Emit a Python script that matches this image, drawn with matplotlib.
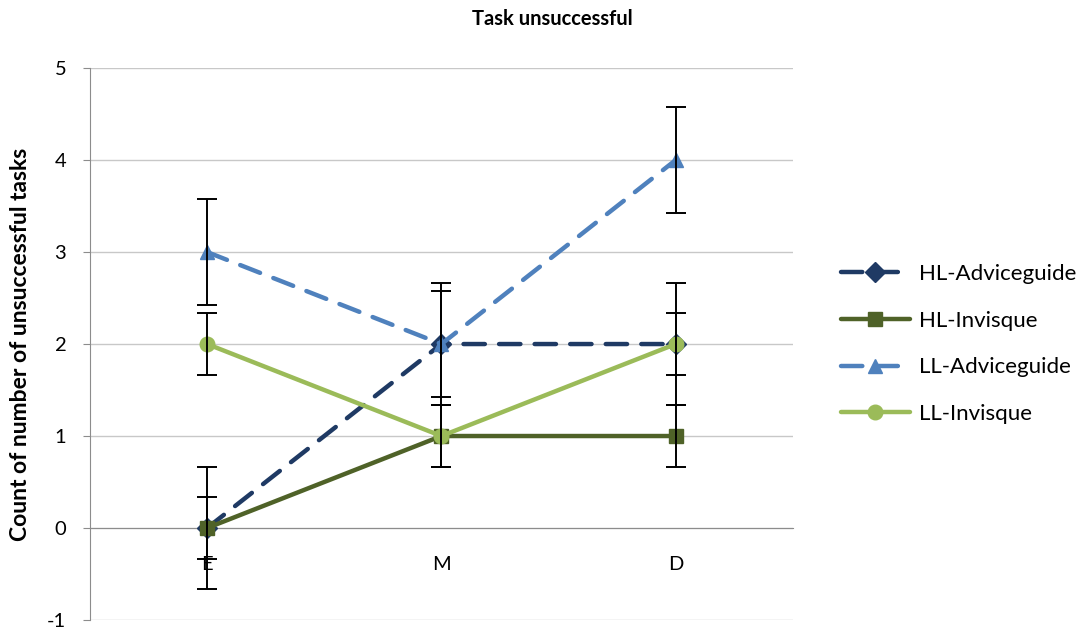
import numpy as np
import matplotlib.pyplot as plt

plt.rcParams['font.family'] = ['Lato', 'DejaVu Sans']
plt.rcParams['axes.unicode_minus'] = False

# data
categories = ['E', 'M', 'D']
hl_advice = [0, 2, 2]
hl_invisque = [0, 1, 1]
ll_advice = [3, 2, 4]
ll_invisque = [2, 1, 2]

hl_advice_err = [0.667, 0.667, 0.667]
hl_invisque_err = [0.333, 0.333, 0.333]
ll_advice_err = [0.577, 0.577, 0.577]
ll_invisque_err = [0.333, 0.333, 0.333]

fig = plt.figure(figsize=(10.88, 6.3), dpi=100)
ax = fig.add_axes([0.0827, 0.0159, 0.646, 0.876])

x = np.arange(len(categories))

series = [
    ('HL-Adviceguide', hl_advice, hl_advice_err, '#1F3A64', 'D', (4.8, 3.2)),
    ('HL-Invisque', hl_invisque, hl_invisque_err, '#4F6228', 's', None),
    ('LL-Adviceguide', ll_advice, ll_advice_err, '#4F81BD', '^', (4.8, 3.2)),
    ('LL-Invisque', ll_invisque, ll_invisque_err, '#9BBB59', 'o', None),
]

for name, vals, err, col, mk, dash in series:
    ln, = ax.plot(x, vals, color=col, lw=3.2, marker=mk, markersize=10.5,
                  label=name, zorder=3, solid_capstyle='round')
    if dash:
        ln.set_dashes(dash)
        ln.set_dash_capstyle('round')
    ax.errorbar(x, vals, yerr=err, fmt='none', ecolor='black', elinewidth=1.4,
                capsize=7, capthick=1.4, zorder=4)

ax.set_xlim(-0.5, 2.5)
ax.set_ylim(-1, 5)
ax.set_yticks(range(-1, 6))
ax.grid(axis='y', color='#C8C8C8', lw=1)
ax.set_axisbelow(True)

for s in ['top', 'right']:
    ax.spines[s].set_visible(False)
ax.spines['left'].set_color('#8C8C8C')
ax.spines['bottom'].set_position(('data', 0))
ax.spines['bottom'].set_color('#8C8C8C')

ax.set_xticks(x)
ax.set_xticklabels(categories)
ax.tick_params(axis='x', length=0, pad=20, labelsize=14.5)
ax.tick_params(axis='y', length=5, color='#8C8C8C', labelsize=14.5, pad=12)

ax.set_ylabel('Count of number of unsuccessful tasks', fontsize=16.5,
              fontweight='bold', labelpad=12)
fig.suptitle('Task unsuccessful', x=0.508, y=0.985, fontsize=14.5, fontweight='bold')

ax.legend(loc='center left', bbox_to_anchor=(1.04, 0.5), frameon=False,
          fontsize=16, handlelength=3.1, labelspacing=1.2, handletextpad=0.4)

fig.savefig('out.png', dpi=100)
